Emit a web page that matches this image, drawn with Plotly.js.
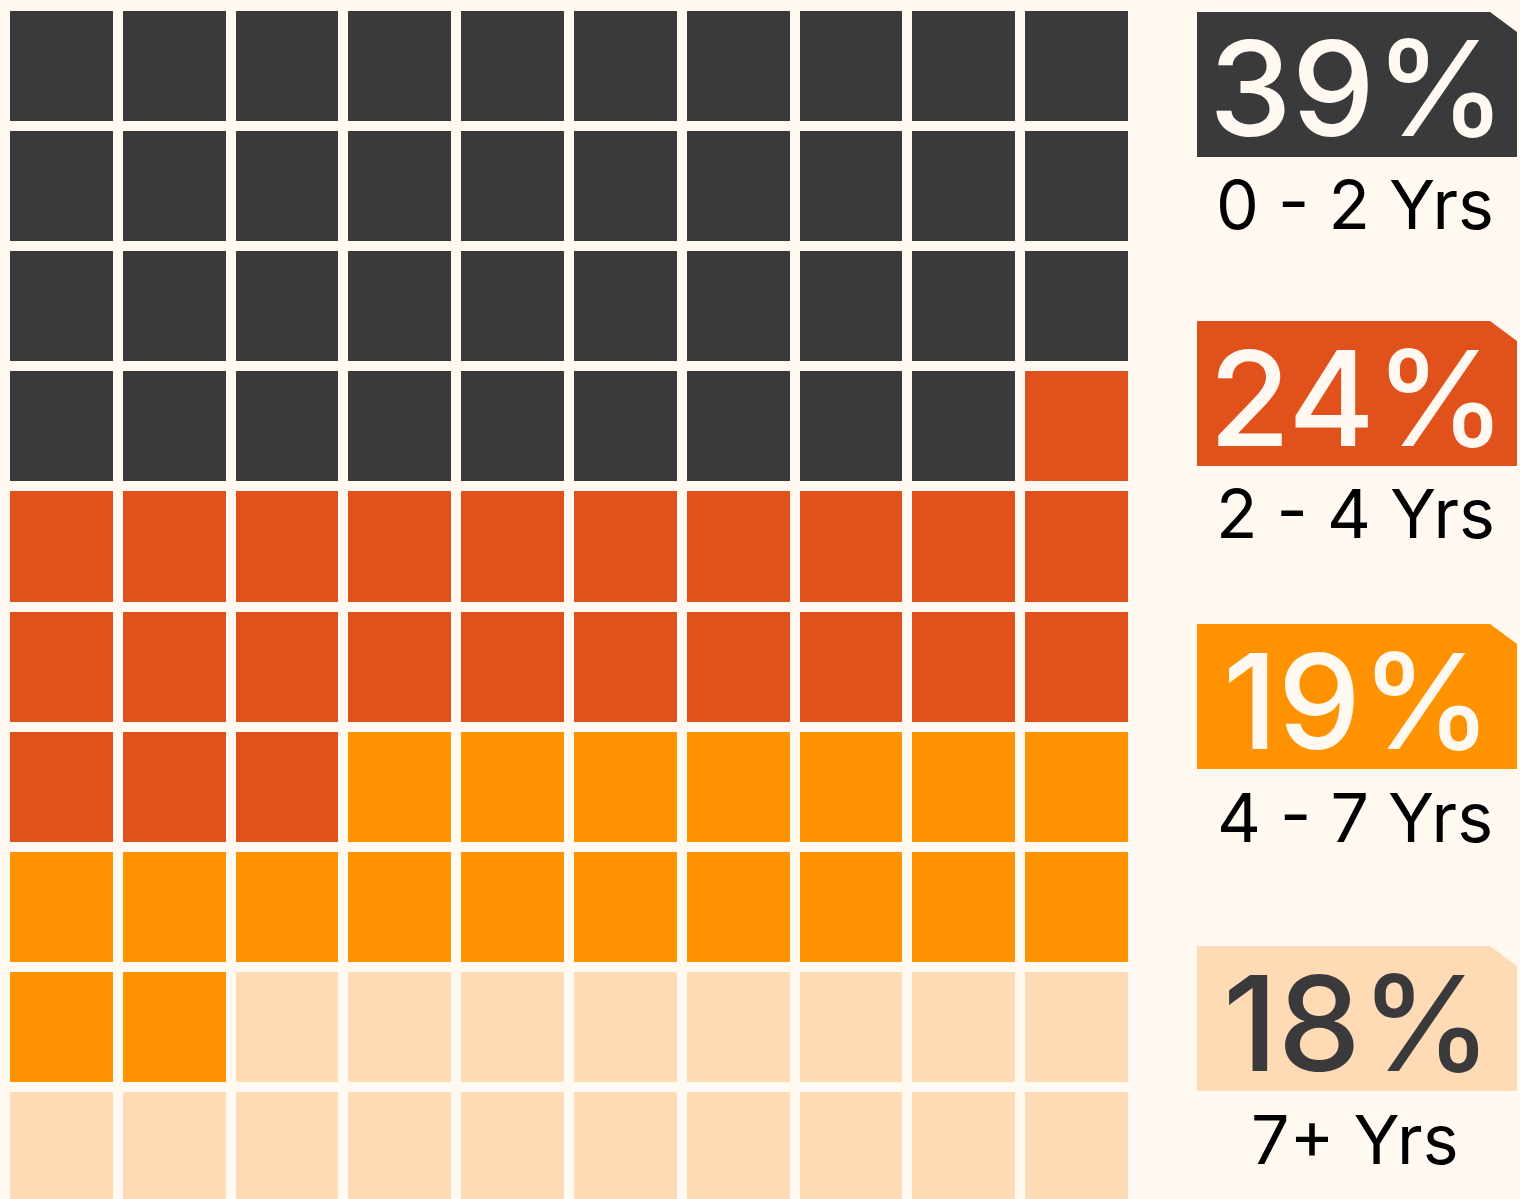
<!DOCTYPE html>
<html>
<head>
<meta charset="utf-8">
<script src="https://cdn.plot.ly/plotly-3.0.1.min.js"></script>
<style>html,body{margin:0;padding:0;background:#FFF9F2;}#chart{width:1520px;height:1199px;}</style>
</head>
<body>
<div id="chart"></div>
<script>
// Data
const categories = ['0 - 2 Yrs', '2 - 4 Yrs', '4 - 7 Yrs', '7+ Yrs'];
const values = [39, 24, 19, 18];
const percentLabels = ['39%', '24%', '19%', '18%'];
const colors = ['#3A3A3C', '#E0511B', '#FF9200', '#FEDBB4'];
const textColors = ['#FFF9F2', '#FFF9F2', '#FFF9F2', '#3A3A3C'];
const nCols = 10, nRows = 10;

// Build waffle grid (row-major fill)
const seq = [];
values.forEach((v, i) => { for (let k = 0; k < v; k++) seq.push(i); });
const z = [];
for (let r = 0; r < nRows; r++) {
  const row = [];
  for (let c = 0; c < nCols; c++) row.push(seq[r * nCols + c]);
  z.push(row);
}
const colorscale = [];
const n = colors.length;
colors.forEach((c, i) => { colorscale.push([i / n, c]); colorscale.push([(i + 1) / n, c]); });

const W = 1520, H = 1199;
const px = x => x / W;
const py = y => 1 - y / H;

const trace = {
  type: 'heatmap',
  z: z,
  x: [...Array(nCols).keys()],
  y: [...Array(nRows).keys()],
  zmin: -0.5, zmax: n - 0.5,
  colorscale: colorscale,
  showscale: false,
  xgap: 10, ygap: 10,
  hoverinfo: 'skip'
};

// Label boxes
const boxTops = [12, 321, 624, 946];
const boxH = 145, boxX0 = 1197, boxX1 = 1517;
const shapes = [], annotations = [];
boxTops.forEach((t, i) => {
  const b = t + boxH;
  const path = `M ${px(boxX0)},${py(t)} L ${px(boxX1 - 27)},${py(t)} L ${px(boxX1)},${py(t + 20)} L ${px(boxX1)},${py(b)} L ${px(boxX0)},${py(b)} Z`;
  shapes.push({type: 'path', xref: 'paper', yref: 'paper', path: path, fillcolor: colors[i], line: {width: 0}, layer: 'above'});
  annotations.push({
    xref: 'paper', yref: 'paper', x: px(1357), y: py(t + boxH / 2 + 4),
    text: percentLabels[i], showarrow: false, xanchor: 'center', yanchor: 'middle',
    font: {family: 'Inter, sans-serif', size: 132, color: textColors[i], weight: 500}
  });
  annotations.push({
    xref: 'paper', yref: 'paper', x: px(1355), y: py(t + boxH / 2 + 120),
    text: categories[i], showarrow: false, xanchor: 'center', yanchor: 'middle',
    font: {family: 'Inter, sans-serif', size: 68, color: '#000000'}
  });
});

const layout = {
  width: W, height: H,
  margin: {l: 0, r: 0, t: 0, b: 0, pad: 0},
  paper_bgcolor: '#FFF9F2',
  plot_bgcolor: '#FFF9F2',
  showlegend: false,
  xaxis: {domain: [px(5), px(1133)], range: [-0.5, nCols - 0.5], visible: false, fixedrange: true},
  yaxis: {domain: [0, py(6)], range: [-0.5 + (H - 6) / 120.1, -0.5], visible: false, fixedrange: true},
  shapes: shapes,
  annotations: annotations
};

Plotly.newPlot('chart', [trace], layout, {displayModeBar: false, staticPlot: true});
</script>
</body>
</html>
